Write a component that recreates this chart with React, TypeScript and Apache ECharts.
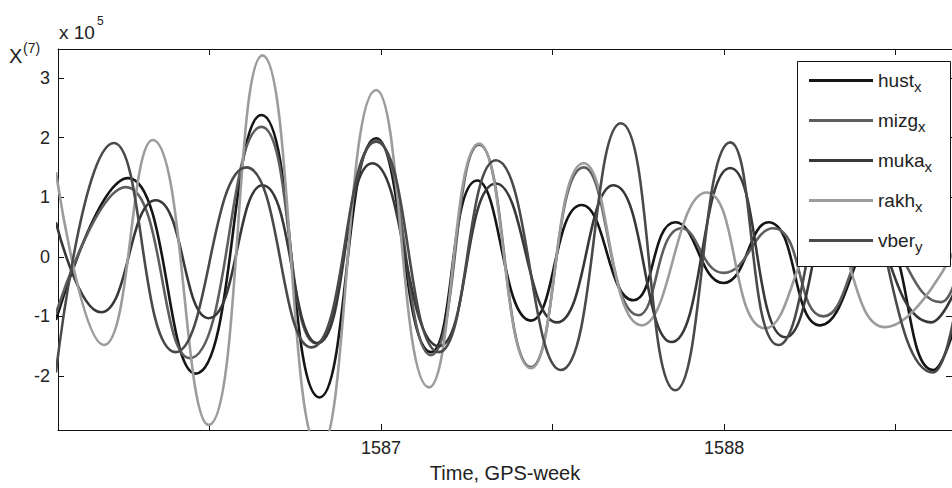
import React, { useEffect, useRef } from "react";
import * as echarts from "echarts";

// GPS week, value (x 10^5)
const hust: [number, number][] = [
  [1586.053, -1.06], [1586.263, 1.32], [1586.46, -1.96], [1586.652, 2.38], [1586.821, -2.36],
  [1586.986, 1.99], [1587.146, -1.6], [1587.28, 1.28], [1587.437, -1.07], [1587.585, 0.87],
  [1587.736, -0.73], [1587.858, 0.58], [1587.998, -0.44], [1588.129, 0.58], [1588.28, -1.15],
  [1588.449, 0.4], [1588.609, -1.9], [1588.67, -1.2],
];
const mizg: [number, number][] = [
  [1586.053, -0.95], [1586.257, 1.17], [1586.443, -1.7], [1586.652, 2.18], [1586.81, -1.45],
  [1586.986, 1.95], [1587.146, -1.65], [1587.286, 1.88], [1587.437, -1.85], [1587.591, 1.5],
  [1587.751, -0.98], [1587.876, 0.48], [1587.998, -0.27], [1588.143, 0.48], [1588.289, -1.0],
  [1588.449, 0.3], [1588.632, -0.76], [1588.67, -0.45],
];
const muka: [number, number][] = [
  [1586.053, 0.58], [1586.184, -0.93], [1586.344, 0.95], [1586.498, -1.03], [1586.655, 1.2],
  [1586.815, -1.45], [1586.975, 1.57], [1587.169, -1.5], [1587.335, 1.23], [1587.513, -1.1],
  [1587.678, 1.2], [1587.847, -1.43], [1588.018, 1.49], [1588.178, -1.35], [1588.36, 1.2],
  [1588.603, -1.1], [1588.67, -0.6],
];
const rakh: [number, number][] = [
  [1586.053, 1.42], [1586.193, -1.48], [1586.335, 1.96], [1586.498, -2.82], [1586.655, 3.38],
  [1586.821, -3.25], [1586.986, 2.8], [1587.14, -2.19], [1587.286, 1.9], [1587.437, -1.87],
  [1587.591, 1.57], [1587.76, -1.15], [1587.949, 1.08], [1588.12, -1.2], [1588.295, 0.4],
  [1588.469, -1.18], [1588.67, 0.1],
];
const vber: [number, number][] = [
  [1586.053, -1.94], [1586.222, 1.91], [1586.402, -1.6], [1586.608, 1.5], [1586.797, -1.52],
  [1586.986, 1.93], [1587.169, -1.6], [1587.335, 1.62], [1587.524, -1.9], [1587.699, 2.24],
  [1587.858, -2.24], [1588.018, 1.92], [1588.158, -1.48], [1588.35, 1.6], [1588.609, -1.94],
  [1588.67, -1.0],
];

const seriesNames = ["hust", "mizg", "muka", "rakh", "vber"];
const subscripts = ["x", "x", "x", "x", "y"];
const seriesData = [hust, mizg, muka, rakh, vber];
const seriesColors = ["#151515", "#5e5e5e", "#383838", "#9c9c9c", "#4a4a4a"];

const xTicks = [1586.5, 1587, 1587.5, 1588, 1588.5];
const xLabels = [1587, 1588];
const yTicks = [-2, -1, 0, 1, 2, 3];

const FONT = "'Liberation Sans', Arial, sans-serif";

export default function App() {
  const ref = useRef<HTMLDivElement>(null);
  useEffect(() => {
    const chart = echarts.init(ref.current!, null, { renderer: "svg" });
    const xMin = 1586.059;
    const xMax = 1588.664;
    const yMin = -2.906;
    const yMax = 3.487;
    const axisLine = { show: true, onZero: false, lineStyle: { color: "#111", width: 1 } };
    const subMap: Record<string, string> = {};
    seriesNames.forEach((n, i) => (subMap[n] = subscripts[i]));
    const plain = (v: number) => String(v);
    chart.setOption({
      animation: false,
      backgroundColor: "#fff",
      grid: { left: 58, top: 49, right: -2, bottom: 58, containLabel: false },
      xAxis: [
        {
          type: "value", min: xMin, max: xMax, position: "bottom",
          axisLine,
          axisTick: { show: true, inside: true, length: 6, customValues: xTicks, lineStyle: { color: "#111" } },
          axisLabel: { customValues: xLabels, formatter: plain, fontSize: 18, color: "#222", margin: 9, fontFamily: FONT },
          splitLine: { show: false },
          name: "Time, GPS-week", nameLocation: "middle", nameGap: 33,
          nameTextStyle: { fontSize: 20, color: "#222", fontFamily: FONT },
        },
        {
          type: "value", min: xMin, max: xMax, position: "top",
          axisLine,
          axisTick: { show: true, inside: true, length: 6, customValues: xTicks, lineStyle: { color: "#111" } },
          axisLabel: { show: false },
          splitLine: { show: false },
        },
      ],
      yAxis: [
        {
          type: "value", min: yMin, max: yMax, position: "left",
          axisLine,
          axisTick: { show: true, inside: true, length: 6, customValues: yTicks, lineStyle: { color: "#111" } },
          axisLabel: { customValues: yTicks, formatter: plain, fontSize: 18, color: "#222", margin: 8, fontFamily: FONT },
          splitLine: { show: false },
        },
        {
          type: "value", min: yMin, max: yMax, position: "right",
          axisLine,
          axisTick: { show: true, inside: true, length: 6, customValues: yTicks, lineStyle: { color: "#111" } },
          axisLabel: { show: false },
          splitLine: { show: false },
        },
      ],
      legend: {
        orient: "vertical", left: 809, top: 67, padding: 0, itemGap: 13,
        itemWidth: 64, itemHeight: 3, icon: "rect", selectedMode: false,
        data: seriesNames,
        formatter: (name: string) => `{n|${name}}{s|${subMap[name]}}`,
        textStyle: {
          fontFamily: FONT, color: "#222",
          rich: {
            n: { fontSize: 19, lineHeight: 22, fontFamily: FONT, color: "#222" },
            s: { fontSize: 15, lineHeight: 16, padding: [12, 0, 0, 0], fontFamily: FONT, color: "#222" },
          },
        },
      },
      graphic: [
        { type: "rect", z: 3, shape: { x: 797.5, y: 61.5, width: 153, height: 205 }, style: { fill: "#fff", stroke: "#111", lineWidth: 1 } },
        { type: "text", x: 9, y: 56, style: { text: "X", fontSize: 20, fontFamily: FONT, fill: "#222", verticalAlign: "middle" } },
        { type: "text", x: 23, y: 48, style: { text: "(7)", fontSize: 14, fontFamily: FONT, fill: "#222", verticalAlign: "middle" } },
        { type: "text", x: 59, y: 32, style: { text: "x 10", fontSize: 19, fontFamily: FONT, fill: "#222", verticalAlign: "middle" } },
        { type: "text", x: 97, y: 21, style: { text: "5", fontSize: 12, fontFamily: FONT, fill: "#222", verticalAlign: "middle" } },
      ],
      series: seriesNames.map((name, i) => ({
        name,
        type: "line",
        data: seriesData[i],
        smooth: 0.5,
        symbol: "none",
        showSymbol: false,
        clip: true,
        lineStyle: { color: seriesColors[i], width: 2.6 },
        itemStyle: { color: seriesColors[i] },
        z: 2,
      })),
    });
    return () => chart.dispose();
  }, []);
  return (
    <div
      ref={ref}
      style={{ position: "absolute", left: 0, top: 0, width: 952, height: 488, background: "#fff" }}
    />
  );
}
